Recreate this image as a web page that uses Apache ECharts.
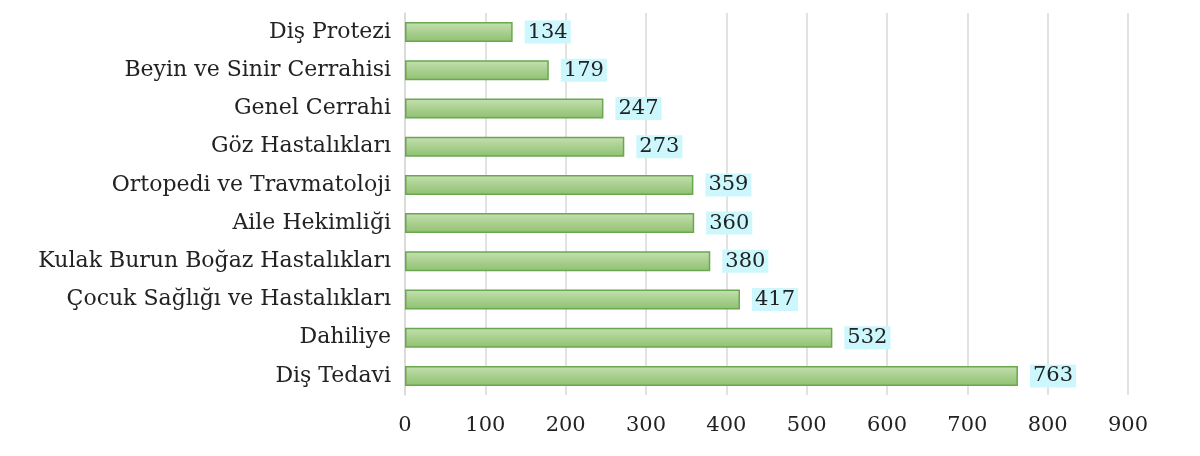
<!DOCTYPE html><html><head><meta charset="utf-8"><script src="https://cdn.jsdelivr.net/npm/echarts@6/dist/echarts.min.js"></script></head><body style="margin:0;background:#fff"><div id="c" style="width:1200px;height:456px"></div><script>
const categories=["Diş Tedavi","Dahiliye","Çocuk Sağlığı ve Hastalıkları","Kulak Burun Boğaz Hastalıkları","Aile Hekimliği","Ortopedi ve Travmatoloji","Göz Hastalıkları","Genel Cerrahi","Beyin ve Sinir Cerrahisi","Diş Protezi"];
const values=[763,532,417,380,360,359,273,247,179,134];
const F='DejaVu Serif';
const c=echarts.init(document.getElementById('c'));
c.setOption({animation:false,
grid:{left:405,right:72,top:13,height:382},
xAxis:{type:'value',min:0,max:900,interval:100,axisLine:{show:false},axisTick:{show:false},
splitLine:{lineStyle:{color:'#d9d9d9',width:1.5}},
axisLabel:{margin:20,fontFamily:F,fontSize:21,color:'#222'}},
yAxis:{type:'category',data:categories,axisTick:{show:false},axisLine:{lineStyle:{color:'#d9d9d9',width:1.5}},
axisLabel:{margin:14,fontFamily:F,fontSize:22,color:'#222'}},
series:[{type:'bar',data:values,barWidth:20,
itemStyle:{borderColor:'#6aa84f',borderWidth:1.5,color:new echarts.graphic.LinearGradient(0,0,0,1,[{offset:0,color:'#c6e0b4'},{offset:0.5,color:'#a9d08e'},{offset:1,color:'#8fc071'}])},
label:{show:true,position:'right',distance:12,fontFamily:F,fontSize:21,color:'#222',backgroundColor:'#ccf7fc',padding:[1,3]}}]});
</script></body></html>
